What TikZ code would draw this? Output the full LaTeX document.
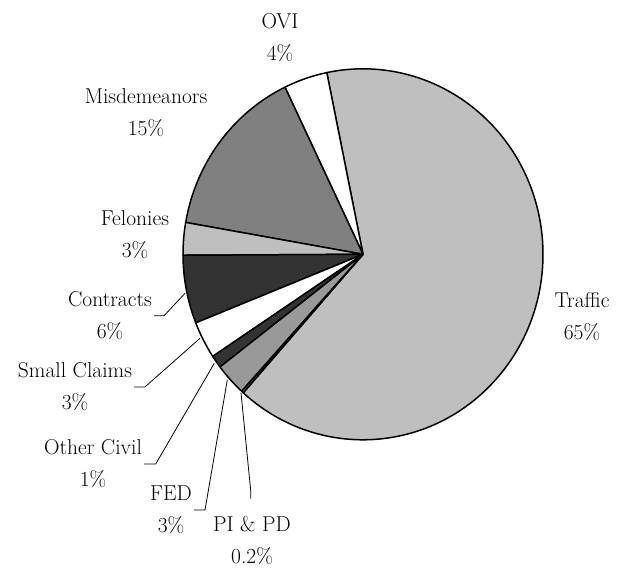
\documentclass[tikz,border=0pt]{standalone}
\begin{document}
\begin{tikzpicture}[x=1pt, y=1pt,
        slice/.style={draw, line width=1.5pt, line join=round},
        lbl/.style={align=center, inner sep=2pt, font=\fontsize{21.5}{32}\selectfont},
        leader/.style={draw, line width=0.8pt}]
    \useasboundingbox (-363,-314.7) rectangle (254,254.3);

    % slices: start / end / fill
    \foreach \a/\b/\c in {228.3/461.6/gray!50, 101.6/115.7/white, 115.7/170.1/gray,
        170.1/180.3/gray!50, 180.3/201.7/black!80, 201.7/213.4/white,
        213.4/217.4/black!80, 217.4/227.6/black!40, 227.6/228.3/gray}
        \filldraw[slice, fill=\c] (0,0) -- (\a:180 and 185.5)
            arc[start angle=\a, end angle=\b, x radius=180, y radius=185.5] -- cycle;

    \node[lbl] (ovi) at (-83,216.3) {OVI\\4\%};
    \node[lbl] (misd) at (-217,141.3) {Misdemeanors\\15\%};
    \node[lbl] (felonies) at (-228,19.3) {Felonies\\3\%};
    \node[lbl] (contracts) at (-253,-61.4) {Contracts\\6\%};
    \node[lbl] (claims) at (-288,-132.7) {Small Claims\\3\%};
    \node[lbl] (civil) at (-270,-209.7) {Other Civil\\1\%};
    \node[lbl] (fed) at (-192,-255.7) {FED\\3\%};
    \node[lbl] (pipd) at (-111,-285.7) {PI \& PD\\0.2\%};
    \node[lbl] (traffic) at (219,-62.7) {Traffic\\65\%};

    \coordinate (contracts-tip) at (-178,-39);
    \coordinate (claims-tip) at (-163,-84);
    \coordinate (civil-tip) at (-148.7,-109);
    \coordinate (fed-tip) at (-135.7,-125.7);
    \coordinate (pipd-tip) at (-122,-138.4);

    \draw[leader] (contracts.east) -- ++(10,0) -- (contracts-tip);
    \draw[leader] (claims.east) -- ++(10.7,0) -- (claims-tip);
    \draw[leader] (civil.east) -- ++(11.6,0) -- (civil-tip);
    \draw[leader] (fed.east) -- ++(11,0) -- (fed-tip);
    \draw[leader] (pipd.north) ++(-1.3,15) -- ++(0,8) -- (pipd-tip);
\end{tikzpicture}
\end{document}
